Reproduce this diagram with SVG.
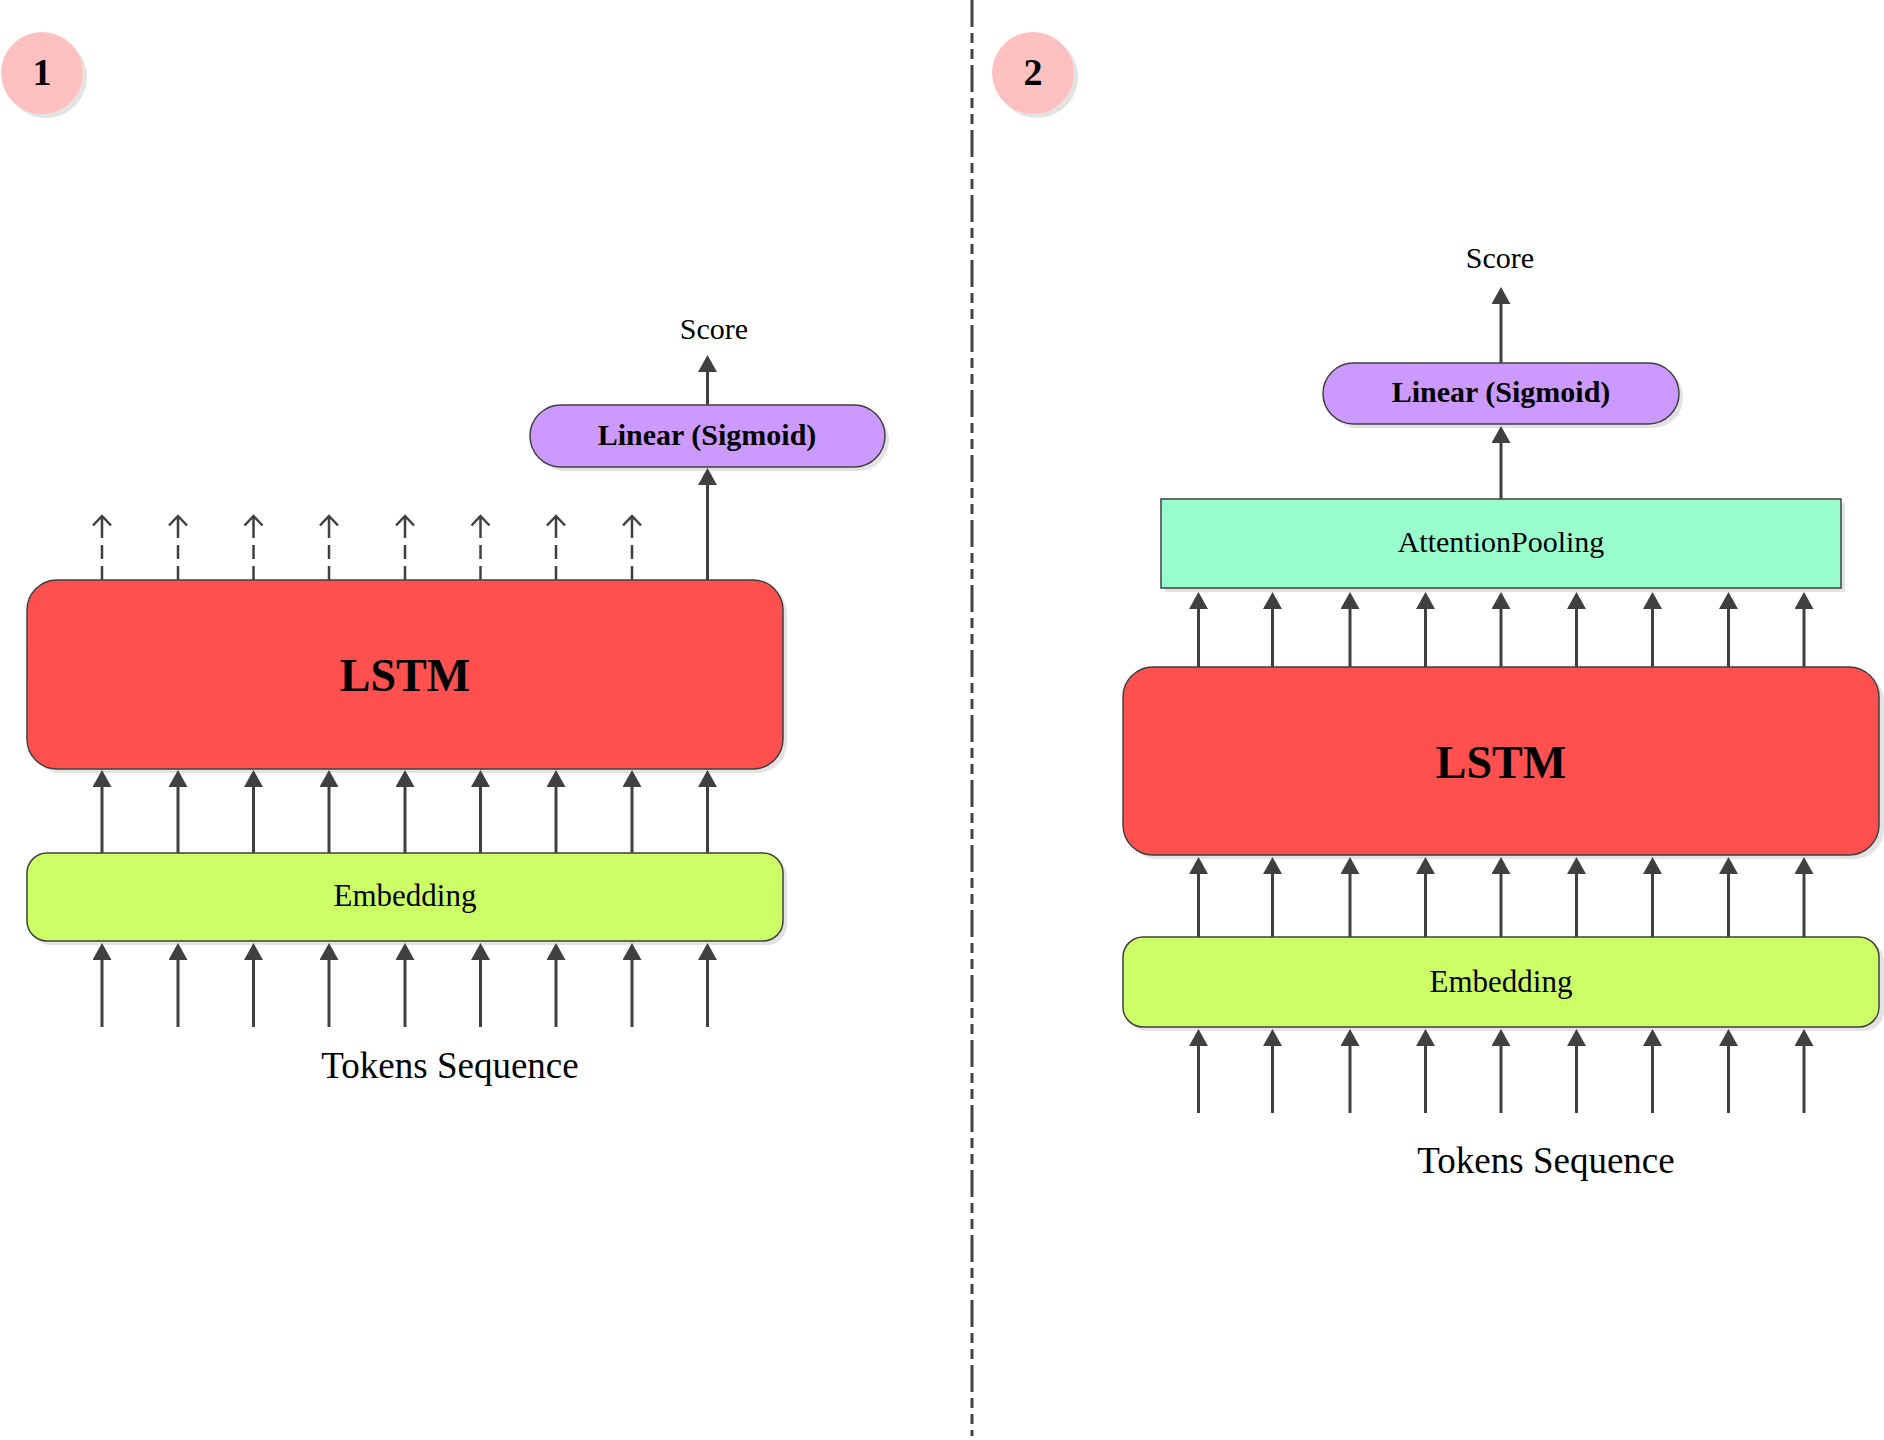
<svg xmlns="http://www.w3.org/2000/svg" width="1884" height="1440" viewBox="0 0 1884 1440">
<defs>
<style>
text{font-family:"Liberation Serif","DejaVu Serif",serif;fill:#000;text-anchor:middle}
.lbl{font-size:31px}
.bold{font-weight:bold}
.big{font-size:46px;font-weight:bold}
.tok{font-size:37px}
.sc{font-size:30px}
.badge{font-size:38px;font-weight:bold}
.box{stroke:#404040;stroke-width:1.5}
.sh{fill:#e3e3e3}
.ar{stroke:#404040;stroke-width:3;fill:none;marker-end:url(#a)}
.da{stroke:#404040;stroke-width:2.5;fill:none;stroke-dasharray:14 7;marker-end:url(#o)}
</style>
<marker id="a" markerUnits="userSpaceOnUse" markerWidth="17" markerHeight="19" viewBox="0 0 17 19" refX="2" refY="9.5" orient="auto">
<path d="M0,0 L17,9.5 L0,19 z" fill="#404040"/>
</marker>
<marker id="o" markerUnits="userSpaceOnUse" markerWidth="12" markerHeight="20" viewBox="0 0 12 20" refX="10.5" refY="10" orient="auto" overflow="visible">
<path d="M1,1 L10.5,10 L1,19 M10.5,10 L2,10" fill="none" stroke="#404040" stroke-width="2.5"/>
</marker>
</defs>
<rect width="1884" height="1440" fill="#fff"/>

<g id="divider">
<line x1="972" y1="0" x2="972" y2="1436" stroke="#444" stroke-width="3" stroke-dasharray="27 6 10 6 10 6"/>
</g>

<g id="badge1">
<circle cx="46" cy="77" r="41" class="sh"/>
<circle cx="42" cy="73" r="41" fill="#FFC0C0"/>
<text x="42" y="85" class="badge">1</text>
</g>
<g id="badge2">
<circle cx="1037" cy="77" r="41" class="sh"/>
<circle cx="1033" cy="73" r="41" fill="#FFC0C0"/>
<text x="1033" y="85" class="badge">2</text>
</g>

<g id="lstm1">
<rect x="31" y="584" width="756" height="189" rx="30" class="sh"/>
<rect x="27" y="580" width="756" height="189" rx="30" fill="#FF5050" class="box"/>
<text x="405" y="691" class="big">LSTM</text>
</g>
<g id="embedding1">
<rect x="31" y="857" width="756" height="88" rx="20" class="sh"/>
<rect x="27" y="853" width="756" height="88" rx="20" fill="#CCFF66" class="box"/>
<text x="405" y="906" class="lbl">Embedding</text>
</g>
<g id="linear1">
<rect x="534" y="409" width="355" height="62" rx="31" class="sh"/>
<rect x="530" y="405" width="355" height="62" rx="31" fill="#CC99FF" class="box"/>
<text x="707" y="445" class="sc bold">Linear (Sigmoid)</text>
</g>
<g id="score1"><text x="714" y="339" class="sc">Score</text></g>
<g id="tokens1"><text x="450" y="1078" class="tok">Tokens Sequence</text></g>

<g id="attention2">
<rect x="1165" y="503" width="680" height="89" class="sh"/>
<rect x="1161" y="499" width="680" height="89" fill="#99FFCC" class="box"/>
<text x="1501" y="552" class="sc">AttentionPooling</text>
</g>
<g id="linear2">
<rect x="1327" y="367" width="356" height="61" rx="30.5" class="sh"/>
<rect x="1323" y="363" width="356" height="61" rx="30.5" fill="#CC99FF" class="box"/>
<text x="1501" y="402" class="sc bold">Linear (Sigmoid)</text>
</g>
<g id="lstm2">
<rect x="1127" y="671" width="757" height="188" rx="30" class="sh"/>
<rect x="1123" y="667" width="756" height="188" rx="30" fill="#FF5050" class="box"/>
<text x="1501" y="778" class="big">LSTM</text>
</g>
<g id="embedding2">
<rect x="1127" y="941" width="757" height="90" rx="20" class="sh"/>
<rect x="1123" y="937" width="756" height="90" rx="20" fill="#CCFF66" class="box"/>
<text x="1501" y="992" class="lbl">Embedding</text>
</g>
<g id="score2"><text x="1500" y="268" class="sc">Score</text></g>
<g id="tokens2"><text x="1546" y="1173" class="tok">Tokens Sequence</text></g>

<g id="connectors">
<!-- left: tokens to embedding -->
<path class="ar" d="M102,1027 V958"/>
<path class="ar" d="M178,1027 V958"/>
<path class="ar" d="M253.5,1027 V958"/>
<path class="ar" d="M329,1027 V958"/>
<path class="ar" d="M405,1027 V958"/>
<path class="ar" d="M480.5,1027 V958"/>
<path class="ar" d="M556,1027 V958"/>
<path class="ar" d="M632,1027 V958"/>
<path class="ar" d="M707.5,1027 V958"/>
<!-- left: embedding to lstm -->
<path class="ar" d="M102,853 V785"/>
<path class="ar" d="M178,853 V785"/>
<path class="ar" d="M253.5,853 V785"/>
<path class="ar" d="M329,853 V785"/>
<path class="ar" d="M405,853 V785"/>
<path class="ar" d="M480.5,853 V785"/>
<path class="ar" d="M556,853 V785"/>
<path class="ar" d="M632,853 V785"/>
<path class="ar" d="M707.5,853 V785"/>
<!-- left: lstm outputs (dashed) -->
<path class="da" d="M102,580 V516"/>
<path class="da" d="M178,580 V516"/>
<path class="da" d="M253.5,580 V516"/>
<path class="da" d="M329,580 V516"/>
<path class="da" d="M405,580 V516"/>
<path class="da" d="M480.5,580 V516"/>
<path class="da" d="M556,580 V516"/>
<path class="da" d="M632,580 V516"/>
<!-- left: last state to linear -->
<path class="ar" d="M707.5,580 V483"/>
<!-- left: linear to score -->
<path class="ar" d="M707.5,405 V370"/>

<!-- right: tokens to embedding -->
<path class="ar" d="M1198.5,1113 V1044"/>
<path class="ar" d="M1272.5,1113 V1044"/>
<path class="ar" d="M1350,1113 V1044"/>
<path class="ar" d="M1425.5,1113 V1044"/>
<path class="ar" d="M1501,1113 V1044"/>
<path class="ar" d="M1576.5,1113 V1044"/>
<path class="ar" d="M1652.5,1113 V1044"/>
<path class="ar" d="M1728.5,1113 V1044"/>
<path class="ar" d="M1804,1113 V1044"/>
<!-- right: embedding to lstm -->
<path class="ar" d="M1198.5,937 V872"/>
<path class="ar" d="M1272.5,937 V872"/>
<path class="ar" d="M1350,937 V872"/>
<path class="ar" d="M1425.5,937 V872"/>
<path class="ar" d="M1501,937 V872"/>
<path class="ar" d="M1576.5,937 V872"/>
<path class="ar" d="M1652.5,937 V872"/>
<path class="ar" d="M1728.5,937 V872"/>
<path class="ar" d="M1804,937 V872"/>
<!-- right: lstm to attention -->
<path class="ar" d="M1198.5,667 V607"/>
<path class="ar" d="M1272.5,667 V607"/>
<path class="ar" d="M1350,667 V607"/>
<path class="ar" d="M1425.5,667 V607"/>
<path class="ar" d="M1501,667 V607"/>
<path class="ar" d="M1576.5,667 V607"/>
<path class="ar" d="M1652.5,667 V607"/>
<path class="ar" d="M1728.5,667 V607"/>
<path class="ar" d="M1804,667 V607"/>
<!-- right: attention to linear -->
<path class="ar" d="M1501,499 V441"/>
<!-- right: linear to score -->
<path class="ar" d="M1501,363 V302"/>
</g>
</svg>
